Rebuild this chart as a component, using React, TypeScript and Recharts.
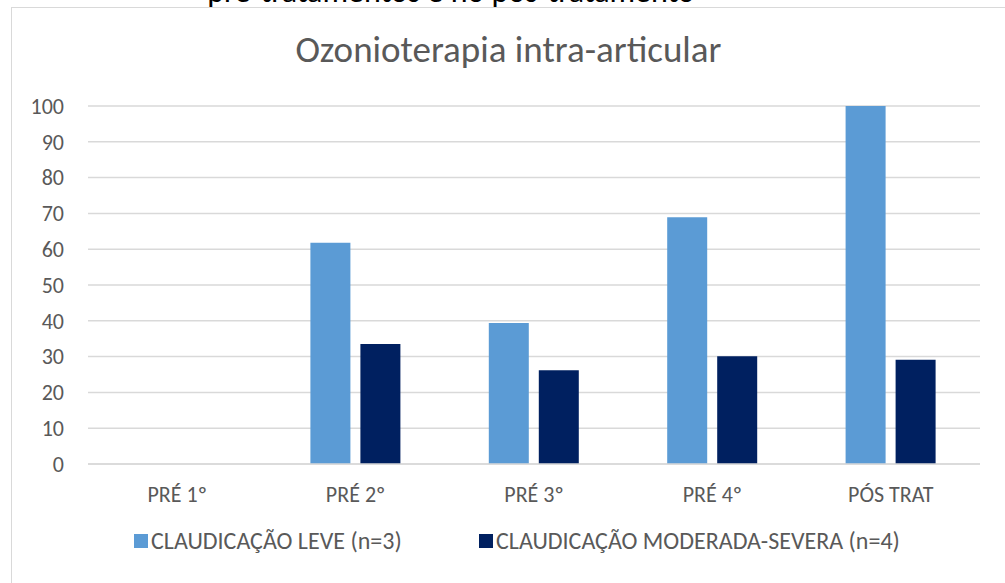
import React from "react";
import { BarChart, Bar, CartesianGrid, XAxis, YAxis } from "recharts";

const categories = ["PRÉ 1º", "PRÉ 2º", "PRÉ 3º", "PRÉ 4º", "PÓS TRAT"];
const leve = [null, 61.8, 39.4, 68.9, 100];
const moderada = [null, 33.5, 26.2, 30.1, 29.1];
const yTicks = [0, 10, 20, 30, 40, 50, 60, 70, 80, 90, 100];

const series = [
  { key: "leve", name: "CLAUDICAÇÃO LEVE (n=3)", color: "#5b9bd5", legendX: 134 },
  { key: "moderada", name: "CLAUDICAÇÃO MODERADA-SEVERA (n=4)", color: "#002060", legendX: 479 },
];

const data = categories.map((c, i) => ({ name: c, leve: leve[i], moderada: moderada[i] }));

const font = "Carlito, 'Liberation Sans Narrow', Roboto, sans-serif";
const textColor = "#595959";

export default function App() {
  return (
    <div
      style={{
        position: "absolute",
        left: 0,
        top: 0,
        width: 1005,
        height: 583,
        overflow: "hidden",
        background: "#fff",
        fontFamily: font,
      }}
    >
      {/* caption of the page, mostly above the picture */}
      <div
        style={{
          position: "absolute",
          top: -28,
          left: 0,
          width: 902,
          textAlign: "center",
          fontSize: 32,
          lineHeight: "39px",
          color: "#000",
          whiteSpace: "nowrap",
        }}
      >
        pré-tratamentos e no pós-tratamento
      </div>

      <div
        style={{
          position: "absolute",
          left: 11,
          top: 7,
          width: 1010,
          height: 600,
          border: "1px solid #d9d9d9",
        }}
      />

      <div
        style={{
          position: "absolute",
          top: 27,
          left: 12,
          width: 993,
          textAlign: "center",
          fontSize: 37,
          color: textColor,
        }}
      >
        Ozonioterapia intra-articular
      </div>

      <div style={{ position: "absolute", left: 0, top: 0 }}>
        <BarChart
          width={1005}
          height={583}
          data={data}
          margin={{ top: 106, right: 25, left: 0, bottom: 79 }}
          barSize={40}
          barGap={10}
        >
          <CartesianGrid vertical={false} stroke="#d9d9d9" strokeWidth={1.5} />
          <XAxis
            dataKey="name"
            height={40}
            tickLine={false}
            axisLine={{ stroke: "#d9d9d9", strokeWidth: 1.5 }}
            tickMargin={16}
            tick={{ fill: textColor, fontSize: 22, fontFamily: font }}
          />
          <YAxis
            width={88}
            domain={[0, 100]}
            ticks={yTicks}
            interval={0}
            tickLine={false}
            axisLine={false}
            tickSize={0}
            tickMargin={24}
            tick={{ fill: textColor, fontSize: 22, fontFamily: font }}
          />
          {series.map((s) => (
            <Bar key={s.key} dataKey={s.key} name={s.name} fill={s.color} isAnimationActive={false} />
          ))}
        </BarChart>
      </div>

      {series.map((s) => (
        <div
          key={s.key}
          style={{
            position: "absolute",
            top: 526,
            left: s.legendX,
            display: "flex",
            alignItems: "center",
            fontSize: 24,
            lineHeight: "29px",
            color: textColor,
            whiteSpace: "nowrap",
          }}
        >
          <span
            style={{ width: 14, height: 14, background: s.color, display: "inline-block", marginRight: 3 }}
          />
          {s.name}
        </div>
      ))}
    </div>
  );
}
